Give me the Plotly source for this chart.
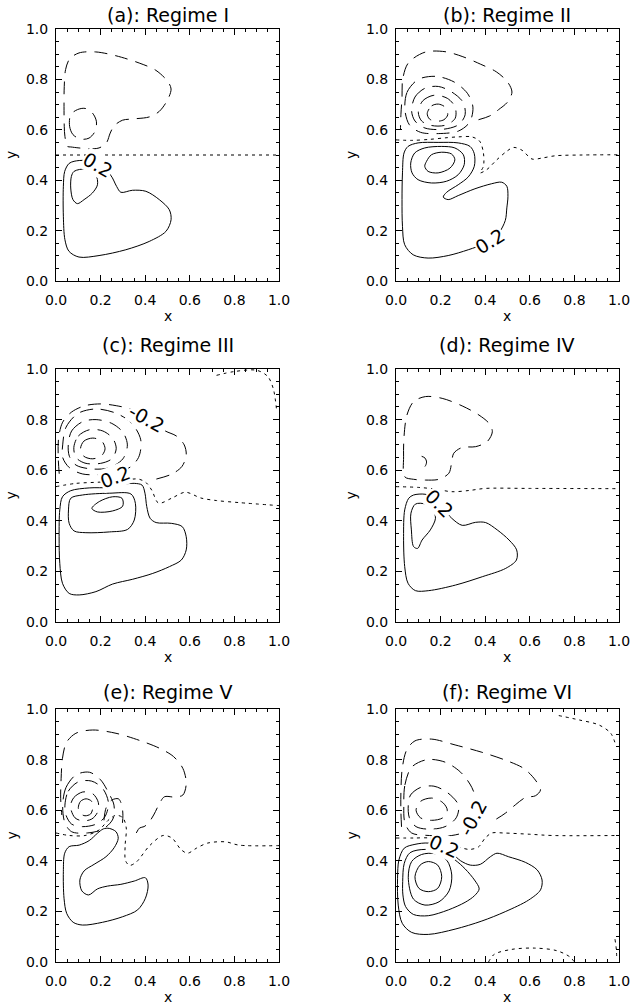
import plotly.graph_objects as go

W, H = 632, 1008
FONT = "DejaVu Sans"

# ---------------- contour lines (x, y data units) ----------------
# (a) Regime I
a_zero = [(0.0, 0.5), (1.0, 0.5)]
a_pos_inner = [(0.081, 0.435), (0.133, 0.444), (0.178, 0.422), (0.186, 0.382), (0.163, 0.349),
               (0.126, 0.323), (0.096, 0.307), (0.076, 0.323), (0.066, 0.369), (0.069, 0.415),
               (0.081, 0.435)]
a_pos_outer = [(0.291, 0.352), (0.343, 0.360), (0.403, 0.356), (0.463, 0.323), (0.508, 0.283),
               (0.516, 0.243), (0.493, 0.197), (0.418, 0.157), (0.313, 0.124), (0.193, 0.101),
               (0.103, 0.095), (0.058, 0.118), (0.040, 0.164), (0.033, 0.257), (0.033, 0.376),
               (0.039, 0.435), (0.058, 0.466), (0.081, 0.475), (0.13, 0.478), (0.19, 0.46),
               (0.245, 0.42), (0.272, 0.375), (0.291, 0.352)]
a_neg_outer = [(0.051, 0.534), (0.040, 0.574), (0.037, 0.614), (0.036, 0.693), (0.037, 0.772),
               (0.043, 0.839), (0.061, 0.881), (0.103, 0.905), (0.178, 0.909), (0.268, 0.894),
               (0.373, 0.865), (0.448, 0.836), (0.501, 0.792), (0.516, 0.762), (0.501, 0.720),
               (0.463, 0.673), (0.418, 0.651), (0.343, 0.643), (0.298, 0.638), (0.261, 0.616),
               (0.243, 0.587), (0.226, 0.548), (0.193, 0.528), (0.148, 0.525), (0.103, 0.528),
               (0.066, 0.532), (0.051, 0.534)]
a_neg_inner = [(0.066, 0.660), (0.061, 0.614), (0.076, 0.581), (0.111, 0.563), (0.148, 0.567),
               (0.175, 0.594), (0.181, 0.634), (0.163, 0.667), (0.130, 0.685), (0.096, 0.680),
               (0.066, 0.660)]
a_labels = [("0.2", 0.19, 0.462, 30)]

# (b) Regime II
b_zero = [(0.0, 0.56), (0.07, 0.558), (0.15, 0.562), (0.22, 0.568), (0.28, 0.572), (0.34, 0.572),
          (0.375, 0.555), (0.392, 0.508), (0.392, 0.455), (0.377, 0.429), (0.407, 0.442),
          (0.452, 0.481), (0.497, 0.515), (0.527, 0.530), (0.565, 0.519), (0.610, 0.484),
          (0.655, 0.488), (0.715, 0.497), (0.835, 0.500), (1.0, 0.501)]
b_pos_1 = [(0.137, 0.475), (0.159, 0.501), (0.204, 0.511), (0.249, 0.504), (0.264, 0.481),
           (0.242, 0.448), (0.189, 0.429), (0.144, 0.435), (0.129, 0.455), (0.137, 0.475)]
b_pos_2 = [(0.066, 0.468), (0.084, 0.508), (0.129, 0.528), (0.204, 0.534), (0.264, 0.528),
           (0.302, 0.501), (0.306, 0.462), (0.279, 0.422), (0.227, 0.396), (0.159, 0.389),
           (0.099, 0.402), (0.072, 0.429), (0.066, 0.468)]
b_pos_3 = [(0.497, 0.290), (0.502, 0.336), (0.497, 0.376), (0.474, 0.392), (0.429, 0.386),
           (0.354, 0.366), (0.279, 0.339), (0.234, 0.323), (0.212, 0.333), (0.227, 0.352),
           (0.279, 0.382), (0.324, 0.413), (0.351, 0.455), (0.351, 0.505), (0.332, 0.534),
           (0.279, 0.548), (0.189, 0.550), (0.099, 0.548), (0.054, 0.534), (0.036, 0.508),
           (0.029, 0.429), (0.027, 0.323), (0.029, 0.217), (0.039, 0.144), (0.077, 0.104),
           (0.144, 0.091), (0.234, 0.101), (0.324, 0.124), (0.40, 0.15), (0.46, 0.19),
           (0.49, 0.24), (0.497, 0.290)]
b_neg_big = [(0.37, 0.64), (0.42, 0.655), (0.46, 0.68), (0.50, 0.71), (0.52, 0.75), (0.50, 0.79),
             (0.45, 0.83), (0.38, 0.86), (0.30, 0.89), (0.22, 0.91), (0.13, 0.908), (0.055, 0.865),
             (0.03, 0.80), (0.027, 0.73), (0.022, 0.66), (0.02, 0.60)]
b_neg_4 = [(0.04, 0.68), (0.05, 0.75), (0.10, 0.80), (0.18, 0.812), (0.26, 0.79), (0.32, 0.745),
           (0.345, 0.69), (0.33, 0.63), (0.28, 0.595), (0.19, 0.585), (0.11, 0.59), (0.06, 0.62),
           (0.04, 0.68)]
b_neg_3 = [(0.07, 0.675), (0.085, 0.73), (0.13, 0.765), (0.19, 0.772), (0.25, 0.75), (0.30, 0.71),
           (0.31, 0.66), (0.28, 0.62), (0.21, 0.602), (0.13, 0.607), (0.085, 0.635), (0.07, 0.675)]
b_neg_2 = [(0.10, 0.67), (0.12, 0.715), (0.17, 0.737), (0.23, 0.725), (0.265, 0.69), (0.265, 0.645),
           (0.22, 0.618), (0.16, 0.617), (0.115, 0.635), (0.10, 0.67)]
b_neg_1 = [(0.14, 0.665), (0.16, 0.695), (0.19, 0.702), (0.22, 0.69), (0.232, 0.66), (0.215, 0.64),
           (0.18, 0.634), (0.15, 0.643), (0.14, 0.665)]
b_labels = [("0.2", 0.422, 0.157, -32)]

# (c) Regime III
c_zero_main = [(0.0, 0.535), (0.09, 0.548), (0.2, 0.553), (0.30, 0.56), (0.37, 0.565), (0.405, 0.55),
               (0.43, 0.52), (0.46, 0.47), (0.52, 0.49), (0.58, 0.513), (0.65, 0.49), (0.72, 0.48),
               (0.82, 0.472), (1.0, 0.46)]
c_zero_corner = [(0.72, 0.975), (0.80, 0.99), (0.90, 0.995), (0.95, 0.97), (0.975, 0.92), (0.99, 0.83)]
c_pos_inner = [(0.161, 0.449), (0.194, 0.476), (0.254, 0.495), (0.296, 0.489), (0.299, 0.458),
               (0.254, 0.439), (0.186, 0.435), (0.161, 0.449)]
c_pos_mid = [(0.056, 0.443), (0.066, 0.489), (0.119, 0.502), (0.239, 0.509), (0.336, 0.506),
             (0.356, 0.469), (0.351, 0.403), (0.321, 0.366), (0.239, 0.356), (0.134, 0.353),
             (0.081, 0.360), (0.059, 0.390), (0.056, 0.443)]
c_pos_outer = [(0.239, 0.532), (0.149, 0.530), (0.066, 0.519), (0.029, 0.495), (0.017, 0.443),
               (0.014, 0.337), (0.017, 0.232), (0.029, 0.153), (0.059, 0.113), (0.104, 0.107),
               (0.179, 0.120), (0.254, 0.150), (0.344, 0.169), (0.434, 0.192), (0.509, 0.219),
               (0.562, 0.245), (0.584, 0.285), (0.584, 0.337), (0.566, 0.377), (0.517, 0.390),
               (0.449, 0.393), (0.422, 0.410), (0.407, 0.456), (0.399, 0.509), (0.386, 0.541),
               (0.351, 0.548), (0.306, 0.545), (0.239, 0.532)]
c_neg_big = [(0.45, 0.565), (0.52, 0.585), (0.565, 0.615), (0.584, 0.66), (0.575, 0.70), (0.54, 0.735),
             (0.49, 0.755), (0.44, 0.785), (0.40, 0.81), (0.34, 0.84), (0.27, 0.855), (0.2, 0.862),
             (0.13, 0.855), (0.07, 0.83), (0.03, 0.79), (0.012, 0.73), (0.01, 0.65), (0.015, 0.58)]
c_neg_4 = [(0.03, 0.70), (0.045, 0.77), (0.10, 0.825), (0.18, 0.842), (0.27, 0.825), (0.34, 0.785),
           (0.38, 0.72), (0.37, 0.65), (0.32, 0.605), (0.22, 0.585), (0.12, 0.585), (0.06, 0.61),
           (0.03, 0.65), (0.03, 0.70)]
c_neg_3 = [(0.055, 0.70), (0.07, 0.755), (0.12, 0.792), (0.18, 0.80), (0.25, 0.785), (0.30, 0.75),
           (0.32, 0.70), (0.30, 0.645), (0.24, 0.61), (0.16, 0.605), (0.09, 0.62), (0.06, 0.655),
           (0.055, 0.70)]
c_neg_2 = [(0.08, 0.69), (0.10, 0.735), (0.15, 0.76), (0.21, 0.755), (0.255, 0.725), (0.27, 0.685),
           (0.25, 0.645), (0.20, 0.627), (0.13, 0.628), (0.09, 0.65), (0.08, 0.69)]
c_neg_1 = [(0.11, 0.685), (0.125, 0.715), (0.165, 0.727), (0.205, 0.715), (0.22, 0.685),
           (0.205, 0.658), (0.165, 0.645), (0.125, 0.655), (0.11, 0.685)]
c_labels = [("-0.2", 0.404, 0.805, 29), ("0.2", 0.263, 0.574, -21)]

# (d) Regime IV
d_zero = [(0.0, 0.535), (0.1, 0.532), (0.18, 0.525), (0.25, 0.515), (0.33, 0.52), (0.4, 0.528),
          (0.6, 0.528), (1.0, 0.527)]
d_pos_inner = [(0.087, 0.466), (0.132, 0.466), (0.165, 0.443), (0.177, 0.410), (0.154, 0.364),
               (0.117, 0.324), (0.097, 0.291), (0.079, 0.298), (0.069, 0.364), (0.067, 0.430),
               (0.087, 0.466)]
d_pos_outer = [(0.297, 0.382), (0.357, 0.394), (0.402, 0.393), (0.454, 0.364), (0.507, 0.324),
               (0.541, 0.285), (0.540, 0.245), (0.492, 0.212), (0.387, 0.179), (0.267, 0.146),
               (0.147, 0.124), (0.087, 0.124), (0.054, 0.153), (0.039, 0.219), (0.034, 0.337),
               (0.039, 0.443), (0.057, 0.489), (0.079, 0.502), (0.13, 0.505), (0.175, 0.49),
               (0.215, 0.445), (0.25, 0.41), (0.297, 0.382)]
d_neg_big = [(0.039, 0.574), (0.034, 0.653), (0.036, 0.733), (0.049, 0.818), (0.079, 0.871),
             (0.132, 0.891), (0.207, 0.884), (0.297, 0.854), (0.372, 0.818), (0.417, 0.785),
             (0.432, 0.752), (0.409, 0.713), (0.357, 0.693), (0.297, 0.690), (0.259, 0.667),
             (0.249, 0.627), (0.237, 0.588), (0.192, 0.564), (0.132, 0.561), (0.079, 0.564),
             (0.039, 0.574)]
d_neg_small = [(0.115, 0.655), (0.13, 0.648), (0.137, 0.632), (0.13, 0.615), (0.117, 0.61)]
d_labels = [("0.2", 0.192, 0.469, 45)]

# (e) Regime V
e_zero = [(0.0, 0.51), (0.06, 0.50), (0.13, 0.50), (0.19, 0.52), (0.24, 0.565), (0.27, 0.58),
          (0.30, 0.57), (0.315, 0.53), (0.31, 0.46), (0.312, 0.40), (0.33, 0.382), (0.36, 0.395),
          (0.42, 0.46), (0.48, 0.50), (0.52, 0.49), (0.56, 0.445), (0.59, 0.43), (0.63, 0.45),
          (0.68, 0.47), (0.76, 0.475), (0.82, 0.462), (1.0, 0.46)]
e_pos = [(0.239, 0.528), (0.269, 0.515), (0.279, 0.489), (0.261, 0.452), (0.224, 0.416),
         (0.171, 0.386), (0.126, 0.360), (0.107, 0.324), (0.116, 0.281), (0.146, 0.265),
         (0.186, 0.289), (0.231, 0.300), (0.291, 0.307), (0.351, 0.320), (0.401, 0.333),
         (0.413, 0.304), (0.401, 0.252), (0.366, 0.206), (0.299, 0.179), (0.209, 0.157),
         (0.119, 0.146), (0.077, 0.157), (0.048, 0.192), (0.036, 0.252), (0.033, 0.357),
         (0.039, 0.430), (0.059, 0.456), (0.104, 0.462), (0.149, 0.480), (0.186, 0.509),
         (0.212, 0.526), (0.239, 0.528)]
e_neg_big = [(0.36, 0.51), (0.375, 0.53), (0.395, 0.535), (0.415, 0.55), (0.438, 0.581),
             (0.461, 0.621), (0.486, 0.653), (0.532, 0.652), (0.569, 0.660), (0.584, 0.706),
             (0.569, 0.765), (0.527, 0.812), (0.464, 0.845), (0.374, 0.876), (0.269, 0.904),
             (0.164, 0.917), (0.089, 0.904), (0.047, 0.868), (0.029, 0.805), (0.023, 0.726),
             (0.021, 0.647), (0.026, 0.581)]
e_neg_4 = [(0.03, 0.62), (0.045, 0.69), (0.09, 0.74), (0.15, 0.75), (0.2, 0.72), (0.235, 0.67),
           (0.26, 0.62), (0.255, 0.565), (0.21, 0.525), (0.14, 0.51), (0.07, 0.515), (0.04, 0.55),
           (0.03, 0.62)]
e_neg_3 = [(0.04, 0.62), (0.055, 0.675), (0.10, 0.712), (0.16, 0.715), (0.21, 0.685), (0.235, 0.63),
           (0.22, 0.575), (0.18, 0.545), (0.12, 0.535), (0.07, 0.545), (0.045, 0.58), (0.04, 0.62)]
e_neg_2 = [(0.065, 0.615), (0.08, 0.65), (0.12, 0.672), (0.165, 0.665), (0.19, 0.63), (0.185, 0.59),
           (0.16, 0.565), (0.12, 0.558), (0.085, 0.57), (0.065, 0.615)]
e_neg_1 = [(0.10, 0.61), (0.11, 0.635), (0.135, 0.645), (0.16, 0.635), (0.165, 0.61), (0.155, 0.585),
           (0.13, 0.578), (0.108, 0.588), (0.10, 0.61)]
e_neg_bump = [(0.215, 0.56), (0.225, 0.61), (0.25, 0.64), (0.28, 0.645), (0.295, 0.62), (0.30, 0.58),
              (0.298, 0.55)]
e_labels = []

# (f) Regime VI
f_zero = [(0.0, 0.49), (0.08, 0.49), (0.15, 0.49), (0.22, 0.475), (0.28, 0.455), (0.33, 0.445),
          (0.37, 0.455), (0.40, 0.49), (0.43, 0.51), (0.48, 0.51), (0.6, 0.505), (0.7, 0.5), (1.0, 0.5)]
f_zero_corner = [(0.73, 0.974), (0.82, 0.957), (0.91, 0.937), (0.963, 0.904), (0.985, 0.858)]
f_zero_bottom = [(0.415, 0.0), (0.44, 0.03), (0.52, 0.05), (0.62, 0.055), (0.72, 0.045),
                 (0.78, 0.02), (0.80, 0.0)]
f_zero_edge = [(0.982, 0.09), (0.988, 0.05), (0.99, 0.01)]
f_pos_1 = [(0.085, 0.337), (0.108, 0.383), (0.145, 0.397), (0.187, 0.383), (0.205, 0.337),
           (0.187, 0.291), (0.145, 0.278), (0.103, 0.291), (0.085, 0.337)]
f_pos_2 = [(0.055, 0.335), (0.070, 0.397), (0.115, 0.425), (0.175, 0.428), (0.228, 0.402),
           (0.250, 0.344), (0.238, 0.281), (0.193, 0.238), (0.130, 0.225), (0.078, 0.249),
           (0.055, 0.335)]
f_pos_3 = [(0.030, 0.318), (0.037, 0.390), (0.063, 0.432), (0.130, 0.445), (0.205, 0.432),
           (0.265, 0.403), (0.310, 0.368), (0.352, 0.324), (0.373, 0.289), (0.352, 0.262),
           (0.310, 0.236), (0.235, 0.206), (0.145, 0.183), (0.078, 0.188), (0.043, 0.219),
           (0.031, 0.265), (0.030, 0.318)]
f_pos_4 = [(0.333, 0.383), (0.378, 0.386), (0.423, 0.416), (0.453, 0.430), (0.505, 0.416),
           (0.580, 0.394), (0.633, 0.364), (0.655, 0.324), (0.648, 0.285), (0.595, 0.245),
           (0.490, 0.199), (0.385, 0.162), (0.265, 0.130), (0.145, 0.109), (0.070, 0.117),
           (0.028, 0.153), (0.010, 0.225), (0.007, 0.331), (0.013, 0.403), (0.037, 0.45),
           (0.085, 0.465), (0.145, 0.47), (0.20, 0.455), (0.25, 0.43), (0.29, 0.40), (0.333, 0.383)]
f_neg_big = [(0.45, 0.565), (0.49, 0.588), (0.535, 0.621), (0.580, 0.650), (0.625, 0.657),
             (0.648, 0.680), (0.625, 0.719), (0.573, 0.765), (0.490, 0.798), (0.385, 0.829),
             (0.265, 0.858), (0.160, 0.881), (0.085, 0.874), (0.048, 0.838), (0.028, 0.765),
             (0.022, 0.673), (0.022, 0.594), (0.025, 0.53)]
f_neg_3 = [(0.035, 0.62), (0.04, 0.70), (0.07, 0.77), (0.14, 0.80), (0.22, 0.79), (0.29, 0.75),
           (0.34, 0.69), (0.36, 0.63), (0.345, 0.57), (0.32, 0.52), (0.25, 0.50), (0.15, 0.50),
           (0.07, 0.51), (0.04, 0.55), (0.035, 0.62)]
f_neg_2 = [(0.055, 0.62), (0.065, 0.66), (0.11, 0.69), (0.17, 0.695), (0.23, 0.67), (0.28, 0.62),
           (0.27, 0.57), (0.22, 0.535), (0.15, 0.525), (0.09, 0.535), (0.06, 0.57), (0.055, 0.62)]
f_neg_1 = [(0.09, 0.60), (0.11, 0.635), (0.16, 0.648), (0.21, 0.63), (0.23, 0.60), (0.21, 0.57),
           (0.16, 0.56), (0.11, 0.57), (0.09, 0.60)]
f_labels = [("-0.2", 0.343, 0.57, -62), ("0.2", 0.214, 0.457, 24)]

TITLES = ["(a): Regime I", "(b): Regime II", "(c): Regime III",
          "(d): Regime IV", "(e): Regime V", "(f): Regime VI"]
TICKS = [0.0, 0.2, 0.4, 0.6, 0.8, 1.0]

PANELS = [
    dict(solid=[a_pos_inner, a_pos_outer], dashed=[a_neg_outer, a_neg_inner],
         dotted=[a_zero], labels=a_labels),
    dict(solid=[b_pos_1, b_pos_2, b_pos_3], dashed=[b_neg_big, b_neg_4, b_neg_3, b_neg_2, b_neg_1],
         dotted=[b_zero], labels=b_labels),
    dict(solid=[c_pos_inner, c_pos_mid, c_pos_outer],
         dashed=[c_neg_big, c_neg_4, c_neg_3, c_neg_2, c_neg_1],
         dotted=[c_zero_main, c_zero_corner], labels=c_labels),
    dict(solid=[d_pos_inner, d_pos_outer], dashed=[d_neg_big, d_neg_small],
         dotted=[d_zero], labels=d_labels),
    dict(solid=[e_pos], dashed=[e_neg_big, e_neg_4, e_neg_3, e_neg_2, e_neg_1, e_neg_bump],
         dotted=[e_zero], labels=e_labels),
    dict(solid=[f_pos_1, f_pos_2, f_pos_3, f_pos_4], dashed=[f_neg_big, f_neg_3, f_neg_2, f_neg_1],
         dotted=[f_zero, f_zero_corner, f_zero_bottom, f_zero_edge], labels=f_labels),
]

# ---------------- layout geometry (window pixels) ----------------
COL_LEFT = [56, 396]
COL_RIGHT = [279, 619]
ROW_TOP = [29, 369, 709]
ROW_BOTTOM = [281, 622, 962]
TITLE_Y = [15, 345, 692]

DASHES = {"solid": "solid", "dashed": "13px,8px", "dotted": "3px,4px"}


def px(x):
    return x / W


def py(y):
    return 1 - y / H


fig = go.Figure()
annotations = []

for i, panel in enumerate(PANELS):
    row, col = divmod(i, 2)
    n = "" if i == 0 else str(i + 1)
    xa, ya = "x" + n, "y" + n
    left, right = COL_LEFT[col], COL_RIGHT[col]
    top, bottom = ROW_TOP[row], ROW_BOTTOM[row]

    for style in ("dotted", "dashed", "solid"):
        for pts in panel[style]:
            fig.add_trace(go.Scatter(
                x=[p[0] for p in pts], y=[p[1] for p in pts],
                mode="lines", xaxis=xa, yaxis=ya,
                line=dict(color="black", width=1, dash=DASHES[style],
                          shape="spline", smoothing=0.9),
                hoverinfo="skip", showlegend=False))

    axis = dict(range=[0, 1], showline=True, linecolor="black", linewidth=1, mirror="ticks",
                ticks="inside", ticklen=6, tickwidth=1, tickcolor="black",
                tickvals=TICKS, tickformat=".1f", showgrid=False, zeroline=False,
                automargin=False,
                tickfont=dict(family=FONT, size=14, color="black"),
                minor=dict(ticks="inside", ticklen=3, dtick=0.05, tick0=0,
                           tickcolor="black", tickwidth=1, showgrid=False),
                fixedrange=True, ticklabelstandoff=6)
    fig.layout["xaxis" + n] = dict(axis, domain=[px(left), px(right)], anchor=ya)
    fig.layout["yaxis" + n] = dict(axis, domain=[py(bottom), py(top)], anchor=xa,
                                   ticklabelstandoff=4)

    # panel title and axis titles
    cx = (left + right) / 2
    annotations.append(dict(text=TITLES[i], x=px(cx), y=py(TITLE_Y[row]),
                            xref="paper", yref="paper", xanchor="center", yanchor="middle",
                            showarrow=False, font=dict(family=FONT, size=19, color="black")))
    annotations.append(dict(text="x", x=px(cx), y=py(bottom + 35),
                            xref="paper", yref="paper", xanchor="center", yanchor="middle",
                            showarrow=False, font=dict(family=FONT, size=14, color="black")))
    annotations.append(dict(text="y", x=px(left - 45), y=py((top + bottom) / 2),
                            xref="paper", yref="paper", xanchor="center", yanchor="middle",
                            showarrow=False, textangle=-90,
                            font=dict(family=FONT, size=14, color="black")))

    # contour labels
    for text, lx, ly, ang in panel["labels"]:
        annotations.append(dict(text=text, x=lx, y=ly, xref=xa, yref=ya, showarrow=False,
                                xanchor="center", yanchor="middle",
                                textangle=ang, bgcolor="white", borderpad=0,
                                font=dict(family=FONT, size=19, color="black")))

fig.update_layout(width=W, height=H, margin=dict(l=0, r=0, t=0, b=0),
                  template="none", paper_bgcolor="white", plot_bgcolor="white",
                  annotations=annotations, showlegend=False)

# drop the browser's default 8px body margin so the figure fills the window
fig.write_html("out.html", config={"displayModeBar": False},
               post_script="document.body.style.margin = '0px';")
